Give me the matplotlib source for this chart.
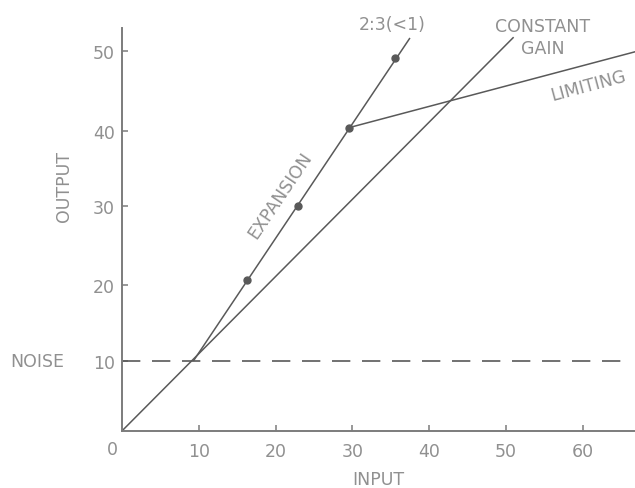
import matplotlib
matplotlib.use("Agg")
import matplotlib.pyplot as plt
import numpy as np

# ── Data ──────────────────────────────────────────────────────
const_x = [0, 51]
const_y = [0, 51.8]

exp_x = [9.3, 37.5]
exp_y = [10, 51.7]
exp_dot_x = [16.3, 22.9, 29.5, 35.5]
exp_dot_y = [20.6, 30.0, 40.4, 49.1]

lim_x = [29.5, 66.8]
lim_y = [40.4, 49.9]

noise_level = 10
noise_x = [0, 65.8]

xticks = [10, 20, 30, 40, 50, 60]
yticks = [10, 20, 30, 40, 50]

# hand-drawn y axis is not quite even: tick value -> height above the x axis (px)
ygrid_val = [0, 10, 20, 30, 40, 50, 53]
ygrid_pix = [0, 70, 146, 225, 300, 380, 403]

LINE = "#595959"
TEXT = "#909090"
AXIS = "#7c7c7c"
FONT = dict(family=["DejaVu Sans"], size=12.5)


def y_fwd(v):
    return np.interp(v, ygrid_val, ygrid_pix)


def y_inv(p):
    return np.interp(p, ygrid_pix, ygrid_val)


fig = plt.figure(figsize=(6.35, 4.89), dpi=100)
ax = fig.add_axes([0.192, 0.1166, 0.808, 0.8241])
ax.set_yscale("function", functions=(y_fwd, y_inv))
ax.set_xlim(0, 66.8)
ax.set_ylim(0, 53)

# ── Lines ─────────────────────────────────────────────────────
ax.plot(const_x, const_y, color=LINE, lw=1.1, solid_capstyle="butt")
ax.plot(exp_x, exp_y, color=LINE, lw=1.1, solid_capstyle="butt")
ax.plot(exp_dot_x, exp_dot_y, "o", color=LINE, ms=5)
ax.plot(lim_x, lim_y, color=LINE, lw=1.1, clip_on=False)
ax.plot(noise_x, [noise_level, noise_level], color=LINE, lw=1.2,
        dashes=(11, 7))

# ── Axes styling ──────────────────────────────────────────────
for side in ("top", "right"):
    ax.spines[side].set_visible(False)
for side in ("left", "bottom"):
    ax.spines[side].set_color(AXIS)
    ax.spines[side].set_linewidth(1.4)

ax.set_xticks(xticks)
ax.set_yticks(yticks)
ax.set_xticklabels([str(v) for v in xticks], fontdict=FONT)
ax.set_yticklabels([str(v) for v in yticks], fontdict=FONT)
ax.minorticks_off()
ax.tick_params(axis="both", direction="in", length=4, width=1.1,
               color=AXIS, labelcolor=TEXT)
ax.tick_params(axis="x", pad=8)
ax.tick_params(axis="y", pad=5)

# origin label sits left of the corner
ax.annotate("0", xy=(0, 0), xytext=(-10, -18), textcoords="offset pixels",
            ha="center", va="center", color=TEXT, **FONT)

# ── Labels ────────────────────────────────────────────────────
fig.text(64 / 635, 1 - 187 / 489, "OUTPUT", rotation=90, ha="center",
         va="center", color=TEXT, **FONT)
fig.text(378 / 635, 1 - 480 / 489, "INPUT", ha="center", va="center",
         color=TEXT, **FONT)
fig.text(37 / 635, 1 - 362 / 489, "NOISE", ha="center", va="center",
         color=TEXT, **FONT)

fig.text(392 / 635, 1 - 25 / 489, "2:3(<1)", ha="center", va="center",
         color=TEXT, **FONT)
fig.text(543 / 635, 1 - 38 / 489, "CONSTANT\nGAIN", ha="center",
         va="center", color=TEXT, linespacing=1.25, **FONT)
fig.text(588 / 635, 1 - 86 / 489, "LIMITING", ha="center", va="center",
         rotation=15, color=TEXT, **FONT)
fig.text(280 / 635, 1 - 196 / 489, "EXPANSION", ha="center", va="center",
         rotation=56, color=TEXT, **FONT)

fig.savefig("out.png", dpi=100, facecolor="white")
